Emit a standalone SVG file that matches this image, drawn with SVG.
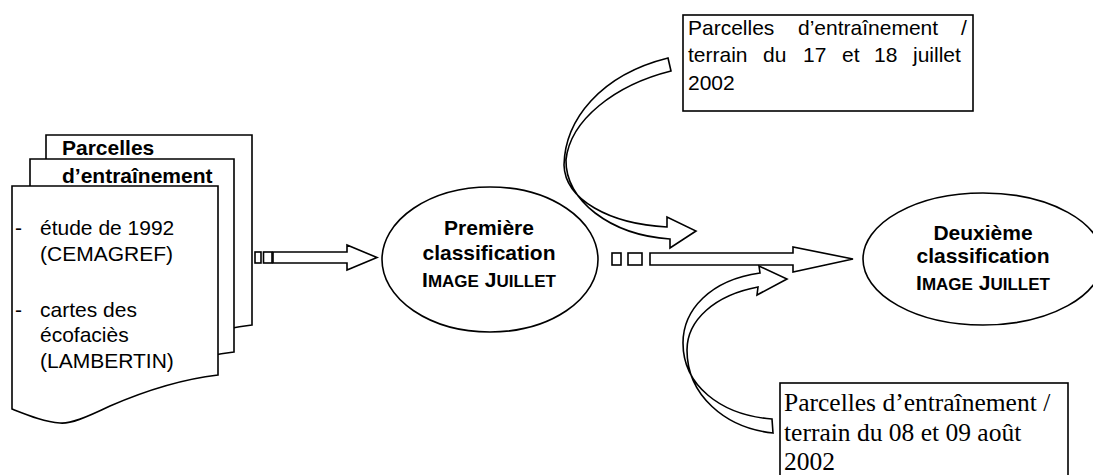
<svg xmlns="http://www.w3.org/2000/svg" width="1093" height="475" viewBox="0 0 1093 475">
<style>
.ln{fill:#fff;stroke:#000;stroke-width:1.6;stroke-linejoin:miter}
.sans{font-family:"Liberation Sans",Arial,sans-serif;font-size:21px;fill:#000}
.b{font-weight:bold}
.serif{font-family:"Liberation Serif","Times New Roman",serif;font-size:25.5px;fill:#000}
.sc{font-size:17px}
</style>
<rect width="1093" height="475" fill="#fff"/>
<g id="parcelles-docs">
  <path class="ln" d="M46,135 H252 V325 C209,330 174,343 144,356 C119,368 104,374 94,373 C79,372 64,366 46,359 Z"/>
  <path class="ln" d="M30,159 H234 V352 C191,357 156,370 126,383 C101,395 86,401 76,400 C61,399 46,393 30,386 Z"/>
  <path class="ln" d="M12,186 H218 V375 C175,380 140,393 110,406 C85,418 70,424 60,423 C45,422 30,416 12,409 Z"/>
  <text class="sans b" x="62" y="155">Parcelles</text>
  <text class="sans b" x="62" y="183">d’entraînement</text>
  <text class="sans" x="15" y="235">-</text>
  <text class="sans" x="40" y="235">étude de 1992</text>
  <text class="sans" x="40" y="261">(CEMAGREF)</text>
  <text class="sans" x="15" y="317">-</text>
  <text class="sans" x="40" y="317">cartes des</text>
  <text class="sans" x="40" y="342">écofaciès</text>
  <text class="sans" x="40" y="368">(LAMBERTIN)</text>
</g>
<g id="classif1">
  <ellipse class="ln" cx="490" cy="259.5" rx="108" ry="72.5"/>
  <text class="sans b" x="489" y="235" text-anchor="middle">Première</text>
  <text class="sans b" x="489" y="260" text-anchor="middle">classification</text>
  <text class="sans b" x="489" y="287" text-anchor="middle">I<tspan class="sc">MAGE</tspan> J<tspan class="sc">UILLET</tspan></text>
</g>
<g id="classif2">
  <ellipse class="ln" cx="983" cy="259" rx="120" ry="66"/>
  <text class="sans b" x="983" y="240" text-anchor="middle">Deuxième</text>
  <text class="sans b" x="983" y="263" text-anchor="middle">classification</text>
  <text class="sans b" x="983" y="290" text-anchor="middle">I<tspan class="sc">MAGE</tspan> J<tspan class="sc">UILLET</tspan></text>
</g>
<g id="terrain-juillet">
  <rect class="ln" x="683" y="15" width="290" height="96"/>
  <text class="sans" y="35"><tspan x="688">Parcelles</tspan><tspan x="798">d’entraînement</tspan><tspan x="961">/</tspan></text>
  <text class="sans" y="62"><tspan x="688">terrain</tspan><tspan x="763">du</tspan><tspan x="803">17</tspan><tspan x="842">et</tspan><tspan x="874">18</tspan><tspan x="913">juillet</tspan></text>
  <text class="sans" x="688" y="90">2002</text>
</g>
<g id="terrain-aout">
  <rect class="ln" x="780" y="383" width="288" height="100"/>
  <text class="serif" x="784" y="411">Parcelles d’entraînement /</text>
  <text class="serif" x="784" y="441">terrain du 08 et 09 août</text>
  <text class="serif" x="784" y="470">2002</text>
</g>
<g id="connectors">
  <rect class="ln" x="255" y="252" width="6" height="11"/>
  <rect class="ln" x="263.5" y="252" width="8.5" height="11"/>
  <path class="ln" d="M273,252 H347 V245 L377,257.5 L347,270 V263 H273 Z"/>
  <rect class="ln" x="612" y="253" width="9" height="12"/>
  <rect class="ln" x="628" y="253" width="14" height="12"/>
  <path class="ln" d="M650,253 H793 V247 L853,259 L793,272 V265 H650 Z"/>
  <path class="ln" d="M668,58 L671,71 C615,85 570,120 566,160 C565,200 610,235 670,239 L670,248 L696,231 L667,217 L667,227 C610,224 565,200 564,165 C565,120 600,75 668,58 Z"/>
  <path class="ln" d="M760,273 L759,266 L787,279 L757,295 L758,287 C715,295 687,320 687,350 C687,395 725,428 773,433 L772,419 C720,415 683,385 683,343 C683,310 710,280 760,273 Z"/>
</g>
</svg>
